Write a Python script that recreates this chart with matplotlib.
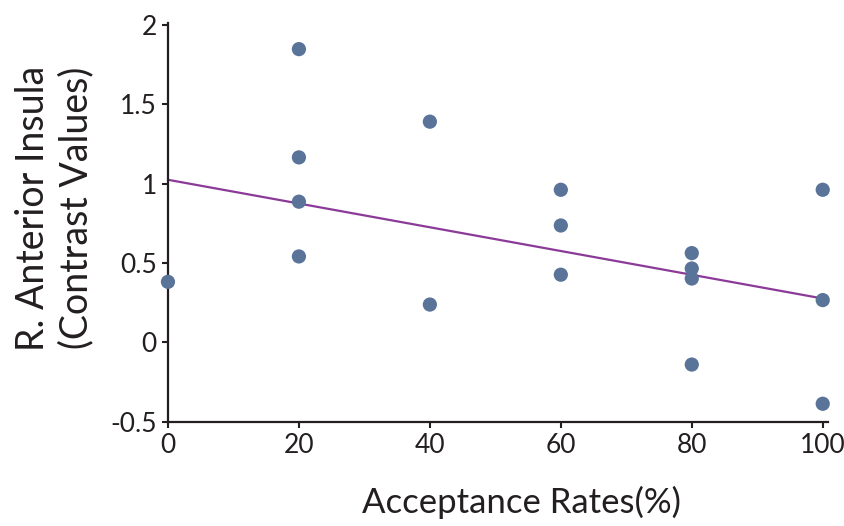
import numpy as np
import matplotlib
matplotlib.use("Agg")
import matplotlib.pyplot as plt

plt.rcParams['font.family'] = ['Lato', 'DejaVu Sans']

acceptance = [0, 20, 20, 20, 20, 40, 40, 60, 60, 60, 80, 80, 80, 80, 100, 100, 100]
contrast = [0.382, 1.848, 1.166, 0.887, 0.542, 1.391, 0.239, 0.962, 0.737, 0.427,
            0.563, 0.466, 0.403, -0.139, 0.962, 0.267, -0.386]
# regression line as drawn in the figure
fit_intercept = 1.025
fit_slope = -0.00748
fit_x = [0, 100]
x_ticks = [0, 20, 40, 60, 80, 100]
y_ticks = [-0.5, 0, 0.5, 1, 1.5, 2]
y_tick_labels = ['-0.5', '0', '0.5', '1', '1.5', '2']

fig = plt.figure(figsize=(8.44, 5.26), dpi=100)
ax = fig.add_axes([0.199, 0.198, 0.782, 0.759])

xs = np.array(fit_x, dtype=float)
ax.plot(xs, fit_intercept + fit_slope * xs, color='#8B3A98', lw=1.6, zorder=2)
ax.scatter(acceptance, contrast, s=105, color='#5A7399', edgecolors='none', zorder=3, clip_on=False)

ax.set_xlim(0, 100.8)
ax.set_ylim(-0.5, 2.015)
ax.set_xticks(x_ticks)
ax.set_xticklabels([str(v) for v in x_ticks])
ax.set_yticks(y_ticks)
ax.set_yticklabels(y_tick_labels)
for s in ['top', 'right']:
    ax.spines[s].set_visible(False)
for s in ['left', 'bottom']:
    ax.spines[s].set_linewidth(1.6)
    ax.spines[s].set_color('#231f20')
ax.tick_params(direction='out', length=4, width=1.5, labelsize=19, colors='#231f20', pad=4)
ax.set_xlabel('Acceptance Rates(%)', fontsize=25, color='#231f20')
ax.xaxis.set_label_coords(0.536, -0.16)
ax.set_ylabel('R. Anterior Insula\n(Contrast Values)', fontsize=27, color='#231f20', linespacing=1.25)
ax.yaxis.set_label_coords(-0.112, 0.535)

fig.savefig('out.png', dpi=100)
